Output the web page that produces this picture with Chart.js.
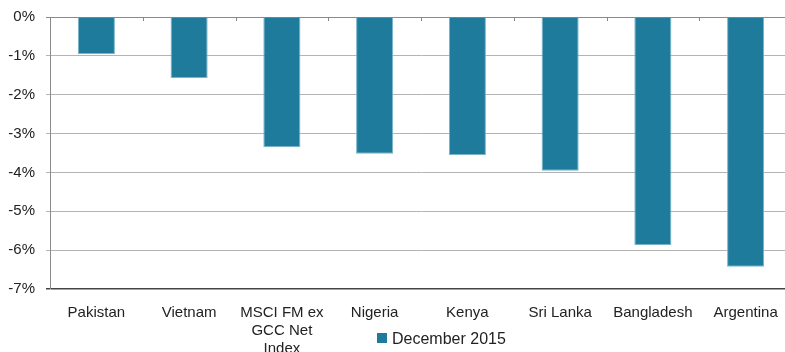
<!DOCTYPE html>
<html lang="en">
<head>
  <meta charset="UTF-8">
  <title>December 2015 returns</title>
  <script src="https://cdn.jsdelivr.net/npm/chart.js"></script>
  <style>
    body {
      margin: 0;
      padding: 0;
      background: #ffffff;
      width: 785px;
      height: 352px;
      overflow: hidden;
    }
    #wrap {
      width: 800px;
      height: 352px;
    }
  </style>
</head>
<body>

<div id="wrap"><canvas id="chart" width="800" height="352"></canvas></div>

<script>
const categories = ['Pakistan', 'Vietnam', ['MSCI FM ex', 'GCC Net', 'Index'], 'Nigeria', 'Kenya', 'Sri Lanka', 'Bangladesh', 'Argentina'];
const dec2015 = [-0.95, -1.57, -3.35, -3.52, -3.55, -3.96, -5.87, -6.43];
const seriesName = 'December 2015';

const FONT = "'Liberation Sans', Arial, sans-serif";
const barColor = '#1f7b9c';

// little tick marks hanging off the 0% line between categories
const catTicks = {
  id: 'catTicks',
  afterDatasetsDraw(chart) {
    const x = chart.scales.x;
    const top = chart.chartArea.top;
    const ctx = chart.ctx;
    ctx.save();
    ctx.strokeStyle = '#888888';
    ctx.lineWidth = 1;
    for (let i = 1; i < categories.length; i++) {
      const px = Math.round((x.getPixelForValue(i - 1) + x.getPixelForValue(i)) / 2) + 0.5;
      ctx.beginPath();
      ctx.moveTo(px, top);
      ctx.lineTo(px, top + 4);
      ctx.stroke();
    }
    ctx.restore();
  }
};

// legend drawn over the bottom of the axis labels, like the source
const lowLegend = {
  id: 'lowLegend',
  afterDraw(chart) {
    const ctx = chart.ctx;
    const area = chart.chartArea;
    const x0 = area.left + 327;
    const y0 = area.bottom + 44;
    ctx.save();
    ctx.fillStyle = barColor;
    ctx.fillRect(x0, y0, 10, 10);
    ctx.fillStyle = '#222222';
    ctx.font = '16px ' + FONT;
    ctx.textBaseline = 'middle';
    ctx.fillText(chart.data.datasets[0].label, x0 + 15, y0 + 7);
    ctx.restore();
  }
};

new Chart(document.getElementById('chart').getContext('2d'), {
  type: 'bar',
  data: {
    labels: categories,
    datasets: [{
      label: seriesName,
      data: dec2015,
      backgroundColor: barColor,
      borderColor: '#79b4ca',
      borderWidth: { left: 1, right: 1, bottom: 1, top: 0 },
      borderSkipped: false,
      barPercentage: 1,
      categoryPercentage: 0.4
    }]
  },
  options: {
    responsive: false,
    animation: false,
    layout: { padding: { top: 17, right: 8, bottom: 0, left: 0 } },
    plugins: {
      legend: { display: false },
      tooltip: { enabled: false }
    },
    scales: {
      x: {
        afterFit(scale) { scale.height = 63; },
        grid: { display: false, drawTicks: false },
        border: { display: false },
        ticks: {
          padding: 15,
          maxRotation: 0,
          autoSkip: false,
          color: '#222222',
          font: { family: FONT, size: 15 }
        }
      },
      y: {
        min: -7,
        max: 0,
        afterFit(scale) {
          scale.width = 50;
          scale.paddingTop = 0;
          scale.paddingBottom = 0;
        },
        grid: {
          color: ctx => ctx.tick.value === 0 ? '#8a8a8a' : (ctx.tick.value === -7 ? '#444444' : '#b4b4b4'),
          lineWidth: ctx => ctx.tick.value === -7 ? 1.5 : 1,
          tickLength: 4
        },
        border: { display: true, color: '#8a8a8a', width: 1 },
        ticks: {
          stepSize: 1,
          padding: 11,
          color: '#222222',
          font: { family: FONT, size: 15 },
          callback: v => v + '%'
        }
      }
    }
  },
  plugins: [catTicks, lowLegend]
});
</script>

</body>
</html>
